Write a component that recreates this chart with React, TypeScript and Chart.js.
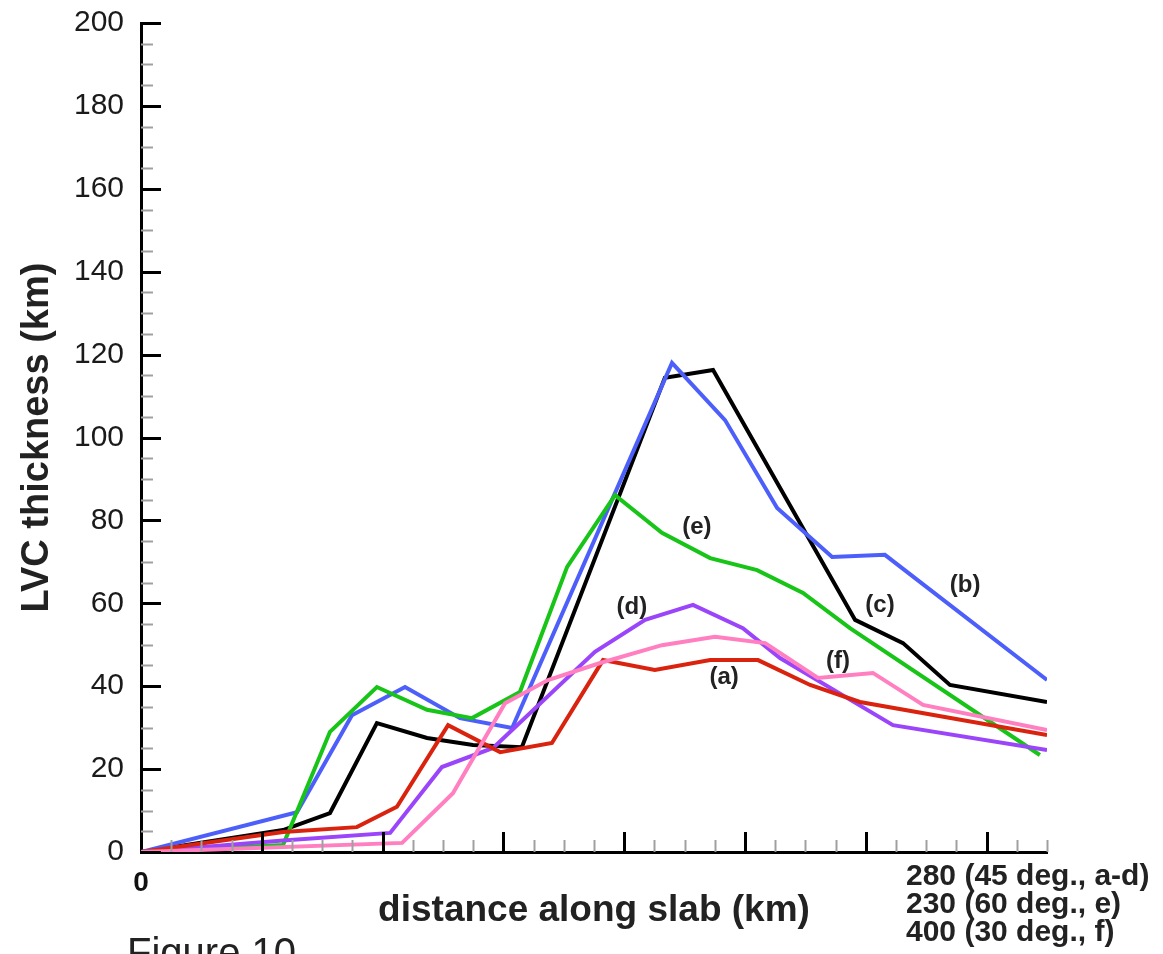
import React, { useEffect, useRef } from "react";
import { Chart, registerables } from "chart.js";

Chart.register(...registerables);

// x: distance along slab (km, axis spans 0..280), y: LVC thickness (km)
const X_MAX = 280;
const Y_MAX = 200;

const aX = [0, 43.9, 66.7, 79.1, 94.9, 111.0, 127.0, 142.8, 158.8, 175.9, 190.7, 206.8, 222.2, 280];
const aY = [0, 4.8, 6.0, 10.9, 30.6, 24.1, 26.3, 46.3, 43.9, 46.3, 46.3, 40.3, 36.2, 28.2];

const bX = [0, 48.2, 65.2, 81.6, 98.6, 114.7, 164.1, 180.5, 196.6, 213.6, 229.9, 280];
const bY = [0, 9.6, 33.0, 39.8, 32.3, 29.9, 118.0, 104.2, 83.0, 71.2, 71.7, 41.5];

const cX = [0, 43.9, 58.4, 72.9, 88.4, 102.6, 117.7, 161.9, 176.8, 220.7, 235.5, 250.0, 280];
const cY = [0, 5.3, 9.4, 31.1, 27.5, 25.8, 25.3, 114.4, 116.3, 56.0, 50.4, 40.3, 36.2];

const dX = [0, 43.9, 77.0, 93.0, 108.8, 140.3, 155.8, 170.6, 186.0, 197.5, 232.4, 280];
const dY = [0, 2.8, 4.6, 20.5, 25.1, 48.3, 56.0, 59.6, 54.0, 46.8, 30.6, 24.6];

const eX = [0, 43.9, 58.4, 72.9, 88.4, 102.3, 117.1, 131.7, 146.5, 161.0, 175.9, 190.4, 204.6, 219.1, 277.8];
const eY = [0, 1.7, 29.0, 39.8, 34.3, 32.3, 38.6, 68.8, 86.1, 77.0, 70.9, 68.0, 62.5, 54.0, 23.4];

const fX = [0, 80.7, 96.4, 112.5, 125.8, 141.9, 161.0, 177.4, 192.9, 209.2, 226.2, 241.7, 280];
const fY = [0, 2.2, 14.2, 35.9, 41.5, 45.6, 49.9, 51.9, 50.4, 42.0, 43.2, 35.5, 29.4];

const seriesNames = ["(a)", "(b)", "(c)", "(d)", "(e)", "(f)"];
const seriesColors = ["#d9230f", "#4d5ffa", "#000000", "#9b45fb", "#17c417", "#ff7fc0"];

// in-plot label positions (data coords)
const labelX = [180.2, 254.7, 228.4, 151.7, 171.8, 215.4];
const labelY = [42.2, 64.4, 59.6, 59.1, 78.4, 46.1];

const footLines = ["280 (45 deg., a-d)", "230 (60 deg., e)", "400 (30 deg., f)"];
const xTitle = "distance along slab (km)";
const yTitle = "LVC thickness (km)";
const figureCaption = "Figure 10";

const X_MINOR_COUNT = 30; // minor ticks along x
const FONT = "'Liberation Sans', Arial, Helvetica, sans-serif";

function pts(xs: number[], ys: number[]) {
  return xs.map((x, i) => ({ x, y: ys[i] }));
}

const decorPlugin = {
  id: "decor",
  afterDraw(chart: any) {
    const { ctx, chartArea, scales } = chart;
    const x = scales.x;
    const y = scales.y;
    ctx.save();
    // y ticks (inward)
    for (let v = 0; v <= Y_MAX; v += 5) {
      const py = Math.round(y.getPixelForValue(v)) + 0.5;
      const major = v % 20 === 0;
      ctx.strokeStyle = major ? "#000" : "#a0a0a0";
      ctx.lineWidth = major ? 3 : 2;
      ctx.beginPath();
      ctx.moveTo(chartArea.left, py);
      ctx.lineTo(chartArea.left + (major ? 20 : 12), py);
      ctx.stroke();
    }
    // x ticks (inward)
    x.ticks.forEach((t: any, i: number) => {
      if (i === 0) return;
      const px = Math.round(x.getPixelForValue(t.value)) + 0.5;
      const major = i % 4 === 0;
      ctx.strokeStyle = major ? "#000" : "#a0a0a0";
      ctx.lineWidth = major ? 3 : 2;
      ctx.beginPath();
      ctx.moveTo(px, chartArea.bottom);
      ctx.lineTo(px, chartArea.bottom - (major ? 20 : 12));
      ctx.stroke();
    });
    // series labels
    ctx.fillStyle = "#222";
    ctx.font = `bold 24px ${FONT}`;
    ctx.textAlign = "center";
    ctx.textBaseline = "middle";
    seriesNames.forEach((n, i) => {
      ctx.fillText(n, x.getPixelForValue(labelX[i]), y.getPixelForValue(labelY[i]));
    });
    // axis titles
    ctx.font = `bold 37px ${FONT}`;
    ctx.fillText(xTitle, (chartArea.left + chartArea.right) / 2, 911);
    ctx.save();
    ctx.translate(38, (chartArea.top + chartArea.bottom) / 2);
    ctx.rotate(-Math.PI / 2);
    ctx.font = `bold 38px ${FONT}`;
    ctx.fillText(yTitle, 0, 0);
    ctx.restore();
    // right-bottom notes
    ctx.textAlign = "left";
    ctx.font = `bold 30px ${FONT}`;
    footLines.forEach((s, i) => ctx.fillText(s, 906, 877 + i * 28));
    // caption
    ctx.font = `40px ${FONT}`;
    ctx.textBaseline = "alphabetic";
    ctx.fillText(figureCaption, 127, 966);
    ctx.restore();
  },
};

export default function App() {
  const ref = useRef<HTMLCanvasElement | null>(null);
  useEffect(() => {
    if (!ref.current) return;
    const xs = [aX, bX, cX, dX, eX, fX];
    const ys = [aY, bY, cY, dY, eY, fY];
    const order = [5, 0, 3, 4, 1, 2];
    const chart = new Chart(ref.current, {
      type: "line",
      data: {
        datasets: order.map((k) => ({
          label: seriesNames[k],
          data: pts(xs[k], ys[k]),
          borderColor: seriesColors[k],
          backgroundColor: seriesColors[k],
          borderWidth: 4,
          pointRadius: 0,
          tension: 0,
          fill: false,
        })),
      },
      options: {
        responsive: false,
        animation: false,
        devicePixelRatio: 1,
        layout: { padding: { left: 0, top: 23, right: 116, bottom: 0 } },
        plugins: { legend: { display: false }, tooltip: { enabled: false } },
        scales: {
          x: {
            type: "linear",
            min: 0,
            max: X_MAX,
            afterBuildTicks: (scale: any) => {
              scale.ticks = Array.from({ length: X_MINOR_COUNT + 1 }, (_, i) => ({
                value: (i * X_MAX) / X_MINOR_COUNT,
              }));
            },
            afterFit: (scale: any) => {
              scale.height = 102;
              scale.paddingLeft = 0;
              scale.paddingRight = 0;
            },
            grid: { display: false, drawTicks: false },
            border: { display: true, color: "#000", width: 3 },
            ticks: {
              autoSkip: false,
              maxRotation: 0,
              padding: 14,
              color: "#111",
              font: { family: FONT, size: 28, weight: "bold" },
              callback: (_v: any, i: number) => (i === 0 ? "0" : ""),
            },
          },
          y: {
            type: "linear",
            min: 0,
            max: Y_MAX,
            afterFit: (scale: any) => {
              scale.width = 141;
              scale.paddingTop = 0;
              scale.paddingBottom = 0;
            },
            grid: { display: false, drawTicks: false },
            border: { display: true, color: "#000", width: 3 },
            ticks: {
              stepSize: 20,
              padding: 17,
              color: "#1a1a1a",
              font: { family: FONT, size: 30 },
            },
          },
        },
      },
      plugins: [decorPlugin],
    });
    return () => chart.destroy();
  }, []);
  return (
    <div style={{ position: "absolute", left: 0, top: 0, width: 1163, height: 954, background: "#fff" }}>
      <canvas ref={ref} width={1163} height={954} style={{ display: "block" }} />
    </div>
  );
}
